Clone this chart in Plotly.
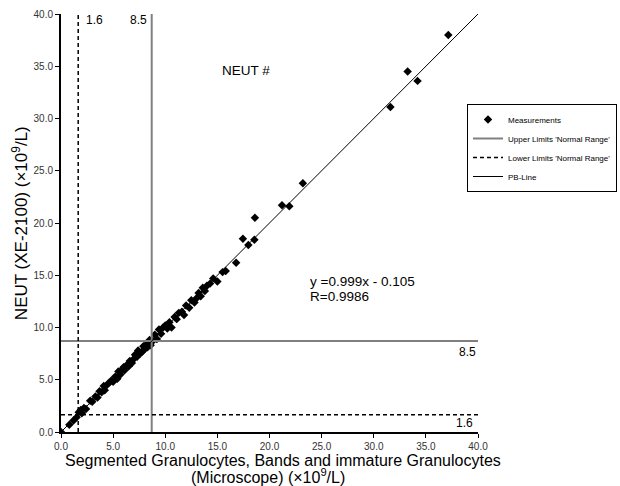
import plotly.graph_objects as go

# Measurements (microscope vs XE-2100), x10^9/L
micro = [0.0, 0.8, 1.2, 1.5, 1.7, 1.9, 2.0, 2.2, 2.4, 2.8, 3.0, 3.3, 3.5, 3.7, 3.9, 4.1, 4.2, 4.4,
         4.6, 4.8, 5.0, 5.2, 5.4, 5.5, 5.7, 5.8, 6.0, 6.1, 6.3, 6.5, 6.6, 6.8, 7.0, 7.1, 7.3, 7.4,
         7.6, 7.8, 7.9, 8.0, 8.2, 8.3, 8.5, 8.6, 8.8, 9.0, 9.2, 9.4, 9.6, 9.8, 10.0, 10.2, 10.4,
         10.6, 10.9, 11.1, 11.3, 11.6, 11.8, 12.0, 12.3, 12.5, 12.8, 13.0, 13.2, 13.4, 13.6, 13.8,
         14.0, 14.3, 14.6, 15.0, 15.5, 15.8, 16.8, 17.45, 17.97, 18.55, 18.6, 21.2, 21.9, 23.2,
         31.6, 33.25, 34.2, 37.15]
xe2100 = [0.0, 0.7, 1.1, 1.4, 1.9, 2.1, 1.8, 2.3, 2.2, 3.0, 2.9, 3.4, 3.3, 3.9, 3.8, 4.4, 4.0, 4.5,
          4.7, 4.9, 4.8, 5.3, 5.1, 5.8, 5.5, 5.9, 6.2, 5.9, 6.4, 6.3, 6.8, 6.6, 7.0, 7.4, 7.2, 7.8,
          7.5, 7.7, 8.2, 7.9, 8.4, 8.1, 8.8, 8.3, 8.7, 9.3, 8.9, 9.8, 9.4, 10.0, 10.2, 9.9, 10.5,
          10.0, 11.0, 10.8, 11.4, 11.5, 11.2, 12.1, 11.9, 12.6, 12.4, 12.8, 13.3, 13.0, 13.8, 13.5,
          14.0, 14.2, 14.7, 14.4, 15.3, 15.4, 16.2, 18.5, 17.9, 18.4, 20.5, 21.7, 21.6, 23.8,
          31.1, 34.5, 33.6, 38.0]

upper_limit = 8.7   # drawn position of the 8.5 limit lines
lower_limit = 1.65  # drawn position of the 1.6 limit lines
axis_max = 40.0
pb_x = [0.0, 40.0]
pb_y = [0.0, 40.0]

FONT = "Liberation Sans, Arial, sans-serif"

fig = go.Figure()
fig.add_trace(go.Scatter(x=micro, y=xe2100, mode="markers", name="Measurements",
                         marker=dict(symbol="diamond", size=6.5, color="black")))
fig.add_trace(go.Scatter(x=[upper_limit, upper_limit, None, 0, axis_max],
                         y=[0, axis_max, None, upper_limit, upper_limit],
                         mode="lines", name="Upper Limits 'Normal Range'",
                         line=dict(color="#808080", width=2)))
fig.add_trace(go.Scatter(x=[lower_limit, lower_limit, None, 0, axis_max],
                         y=[0, axis_max, None, lower_limit, lower_limit],
                         mode="lines", name="Lower Limits 'Normal Range'",
                         line=dict(color="black", width=1.5, dash="4px,3px")))
fig.add_trace(go.Scatter(x=pb_x, y=pb_y, mode="lines", name="PB-Line",
                         line=dict(color="black", width=1)))

ann = dict(showarrow=False, borderpad=0, font=dict(family=FONT, size=12, color="black"))
fig.add_annotation(x=2.3, y=39.4, text="1.6", xanchor="left", yanchor="middle", **ann)
fig.add_annotation(x=8.3, y=39.4, text="8.5", xanchor="right", yanchor="middle", **ann)
big = dict(showarrow=False, borderpad=0, font=dict(family=FONT, size=13.5, color="black"))
fig.add_annotation(x=15.35, y=34.6, text="NEUT #", xanchor="left", yanchor="middle", **big)
fig.add_annotation(x=23.8, y=14.45, text="y =0.999x - 0.105", xanchor="left",
                   yanchor="middle", **big)
fig.add_annotation(x=23.8, y=13.0, text="R=0.9986", xanchor="left", yanchor="middle", **big)
fig.add_annotation(x=39.9, y=7.65, text="8.5", xanchor="right", yanchor="middle", **ann)
fig.add_annotation(x=39.6, y=0.85, text="1.6", xanchor="right", yanchor="middle", **ann)

# axis titles as annotations (fixed positions)
title_font = dict(family=FONT, size=16, color="black")
fig.add_annotation(xref="paper", yref="paper", x=0.533, y=-0.067, yanchor="middle",
                   text="Segmented Granulocytes, Bands and immature Granulocytes",
                   showarrow=False, borderpad=0, font=title_font)
fig.add_annotation(xref="paper", yref="paper", x=0.497, y=-0.106, yanchor="middle",
                   text="(Microscope) (×10<sup>9</sup>/L)",
                   showarrow=False, borderpad=0, font=title_font)
fig.add_annotation(xref="paper", yref="paper", x=-0.098, y=0.5, xanchor="center",
                   yanchor="middle", textangle=-90,
                   text="NEUT (XE-2100) (×10<sup>9</sup>/L)",
                   showarrow=False, borderpad=0, font=dict(family=FONT, size=17, color="black"))

fig.update_layout(
    width=620, height=486,
    margin=dict(l=61, r=142, t=14, b=54, autoexpand=False),
    paper_bgcolor="white", plot_bgcolor="white",
    font=dict(family=FONT, color="black"),
    showlegend=True,
    legend=dict(xref="container", yref="container", x=467 / 620, y=1 - 104 / 486,
                xanchor="left", yanchor="top",
                bordercolor="black", borderwidth=1, bgcolor="white",
                font=dict(size=8, family=FONT), itemwidth=30, tracegroupgap=0),
)
fig.update_xaxes(range=[0, 40], dtick=5, tickformat=".1f", showgrid=False, zeroline=False,
                 showline=True, linecolor="black", linewidth=2, ticks="outside",
                 ticklen=4, tickcolor="black", automargin=False,
                 tickfont=dict(size=10, color="#333333"))
fig.update_yaxes(range=[0, 40], dtick=5, tickformat=".1f", showgrid=False, zeroline=False,
                 showline=True, linecolor="black", linewidth=2, ticks="outside",
                 ticklen=4, tickcolor="black", automargin=False,
                 tickfont=dict(size=10, color="#333333"))

fig.write_html("out.html")
